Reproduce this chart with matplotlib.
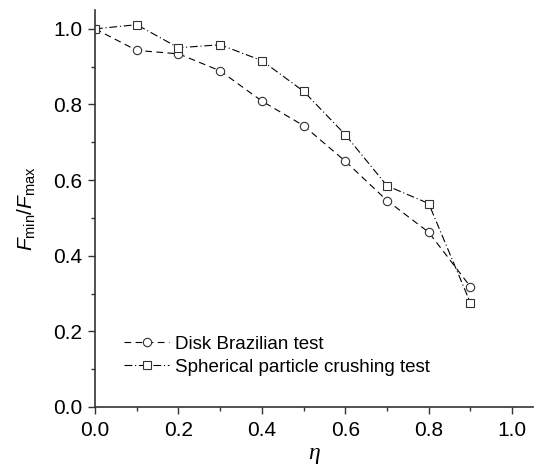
import matplotlib
matplotlib.use("Agg")
import matplotlib.pyplot as plt
from matplotlib.ticker import MultipleLocator

plt.rcParams['font.family'] = 'Liberation Sans'
plt.rcParams['mathtext.fontset'] = 'custom'
plt.rcParams['mathtext.rm'] = 'Liberation Sans'
plt.rcParams['mathtext.it'] = 'Liberation Sans:italic'

# data
eta = [0.0, 0.1, 0.2, 0.3, 0.4, 0.5, 0.6, 0.7, 0.8, 0.9]
disk_brazilian = [1.0, 0.943, 0.934, 0.889, 0.809, 0.744, 0.650, 0.546, 0.462, 0.318]
sphere_crushing = [1.0, 1.011, 0.950, 0.958, 0.916, 0.835, 0.720, 0.585, 0.538, 0.275]

labels = ["Disk Brazilian test", "Spherical particle crushing test"]

fig = plt.figure(figsize=(5.35, 4.74), dpi=100)
ax = fig.add_axes([0.1776, 0.1414, 0.8187, 0.8376])

edge = '#333333'
ax.plot(eta, disk_brazilian, color='black', lw=0.8, dashes=(6, 4),
        marker='o', ms=6, mfc='white', mec=edge, mew=0.8, label=labels[0])
ax.plot(eta, sphere_crushing, color='black', lw=0.8, dashes=(7, 2.5, 1, 2.5),
        marker='s', ms=5.5, mfc='white', mec=edge, mew=0.8, label=labels[1])

ax.set_xlim(0, 1.05)
ax.set_ylim(0, 1.05)
ax.xaxis.set_minor_locator(MultipleLocator(0.1))
ax.yaxis.set_minor_locator(MultipleLocator(0.1))
ax.set_xticks([0, 0.2, 0.4, 0.6, 0.8, 1.0])
ax.set_yticks([0, 0.2, 0.4, 0.6, 0.8, 1.0])
ax.xaxis.set_major_formatter(plt.FormatStrFormatter('%.1f'))
ax.yaxis.set_major_formatter(plt.FormatStrFormatter('%.1f'))

for side in ['top', 'right']:
    ax.spines[side].set_visible(False)
for side in ['left', 'bottom']:
    ax.spines[side].set_color(edge)
    ax.spines[side].set_linewidth(1.2)

ax.tick_params(which='major', direction='out', length=5, width=1.0, color=edge,
               labelsize=15)
ax.tick_params(axis='x', which='major', pad=5)
ax.tick_params(axis='y', which='major', pad=4)
ax.tick_params(which='minor', direction='out', length=3, width=1.0, color=edge)

ax.set_xlabel('η', fontfamily='Liberation Serif', style='italic', fontsize=17, labelpad=2)
ax.set_ylabel('$F_{\\mathrm{min}}/F_{\\mathrm{max}}$', fontsize=15, labelpad=11)

ax.legend(loc='lower left', bbox_to_anchor=(0.045, 0.055), frameon=False,
          fontsize=13.5, handlelength=2.4, handletextpad=0.3, labelspacing=0.3,
          borderpad=0)

fig.savefig('out.png', dpi=100)
